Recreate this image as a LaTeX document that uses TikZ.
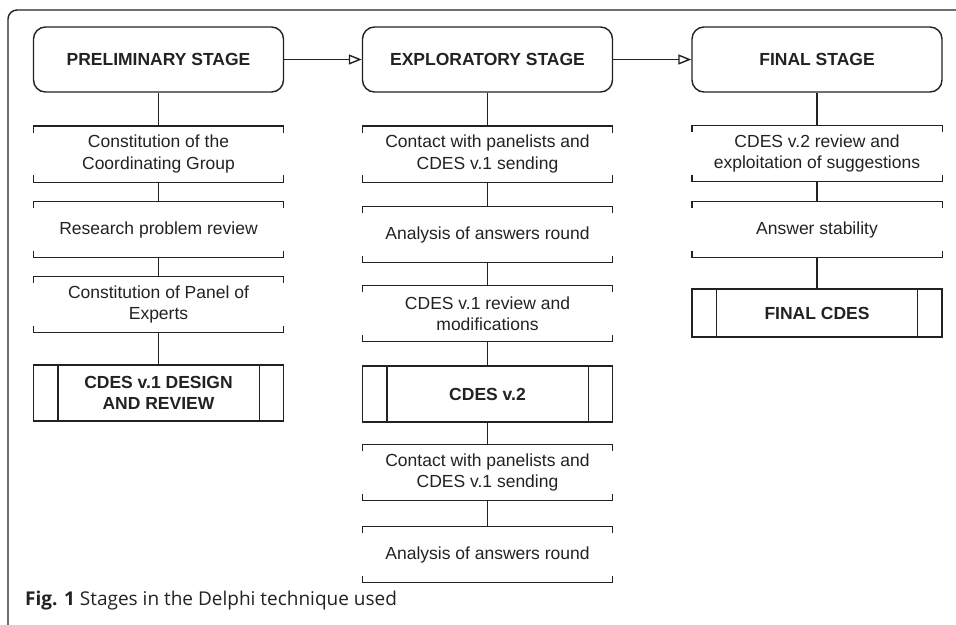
\documentclass[tikz,border=0pt]{standalone}
\usepackage{fontspec}
\setmainfont{Liberation Sans}
\newfontfamily\capfont{Open Sans}
\usetikzlibrary{arrows.meta}
\definecolor{ink}{HTML}{222222}
\tikzset{
  lw/.style={line width=1.4pt, draw=ink},
  stagebox/.style={lw, rounded corners=12pt, minimum width=250pt, minimum height=65pt, inner sep=0pt,
    font=\fontsize{17.5}{21.5}\selectfont\bfseries, text=ink},
  brackbox/.style={minimum width=250pt, minimum height=56pt, inner sep=0pt, align=center,
    font=\fontsize{17.5}{21.5}\selectfont, text=ink},
  procbox/.style={lw, minimum width=250pt, minimum height=56pt, inner sep=0pt, align=center,
    font=\fontsize{17.5}{21.5}\selectfont\bfseries, text=ink},
  conn/.style={lw},
  stagearrow/.style={lw, -{Triangle[open,length=13pt,width=10pt]}},
}
\begin{document}
\begin{tikzpicture}[x=1pt,y=-1pt]
\useasboundingbox (0,0) rectangle (956,624);
% frame
\draw[lw, rounded corners=9pt] (8,630) -- (8,10) -- (960,10);
% stages
\node[stagebox] (s1) at (158.5,59.5) {PRELIMINARY STAGE};
\node[stagebox] (s2) at (487.5,59.5) {EXPLORATORY STAGE};
\node[stagebox] (s3) at (817,59.5) {FINAL STAGE};
\draw[stagearrow] (s1.east) -- (s2.west);
\draw[stagearrow] (s2.east) -- (s3.west);
% column 1
\node[brackbox] (a1) at (158.5,154) {Constitution of the\\Coordinating Group};
\node[brackbox] (a2) at (158.5,229.5) {Research problem review};
\node[brackbox] (a3) at (158.5,304.5) {Constitution of Panel of\\Experts};
\node[procbox] (ap) at (158.5,393) {CDES v.1 DESIGN\\AND REVIEW};
% column 2
\node[brackbox] (b1) at (487.5,154) {Contact with panelists and\\CDES v.1 sending};
\node[brackbox] (b2) at (487.5,234.5) {Analysis of answers round};
\node[brackbox] (b3) at (487.5,313.5) {CDES v.1 review and\\modifications};
\node[procbox] (bp) at (487.5,394) {CDES v.2};
\node[brackbox] (b4) at (487.5,472.5) {Contact with panelists and\\CDES v.1 sending};
\node[brackbox] (b5) at (487.5,554.5) {Analysis of answers round};
% column 3
\node[brackbox] (c1) at (817,153.5) {CDES v.2 review and\\exploitation of suggestions};
\node[brackbox] (c2) at (817,229.5) {Answer stability};
\node[procbox, minimum height=48pt] (cp) at (817,313) {FINAL CDES};
% brackets
\foreach \n in {a1,a2,a3,b1,b2,b3,b4,b5,c1,c2}{
  \draw[lw] ([yshift=-7pt]\n.north west) -- (\n.north west) -- (\n.north east) -- ([yshift=-7pt]\n.north east);
  \draw[lw] ([yshift=7pt]\n.south west) -- (\n.south west) -- (\n.south east) -- ([yshift=7pt]\n.south east);
}
% process inner lines
\foreach \n in {ap,bp,cp}{
  \draw[lw] ([xshift=25pt]\n.north west) -- ([xshift=25pt]\n.south west);
  \draw[lw] ([xshift=-25pt]\n.north east) -- ([xshift=-25pt]\n.south east);
}
% connectors
\draw[conn] (s1) -- (a1); \draw[conn] (a1) -- (a2); \draw[conn] (a2) -- (a3); \draw[conn] (a3) -- (ap);
\draw[conn] (s2) -- (b1); \draw[conn] (b1) -- (b2); \draw[conn] (b2) -- (b3); \draw[conn] (b3) -- (bp);
\draw[conn] (bp) -- (b4); \draw[conn] (b4) -- (b5);
\draw[conn] (s3) -- (c1); \draw[conn] (c1) -- (c2); \draw[conn] (c2) -- (cp);
% caption
\node[anchor=west, inner sep=0pt, text=ink, font=\capfont\fontsize{19}{23}\selectfont] (cap) at (25,601)
  {\textbf{Fig. 1} Stages in the Delphi technique used};
\end{tikzpicture}
\end{document}
